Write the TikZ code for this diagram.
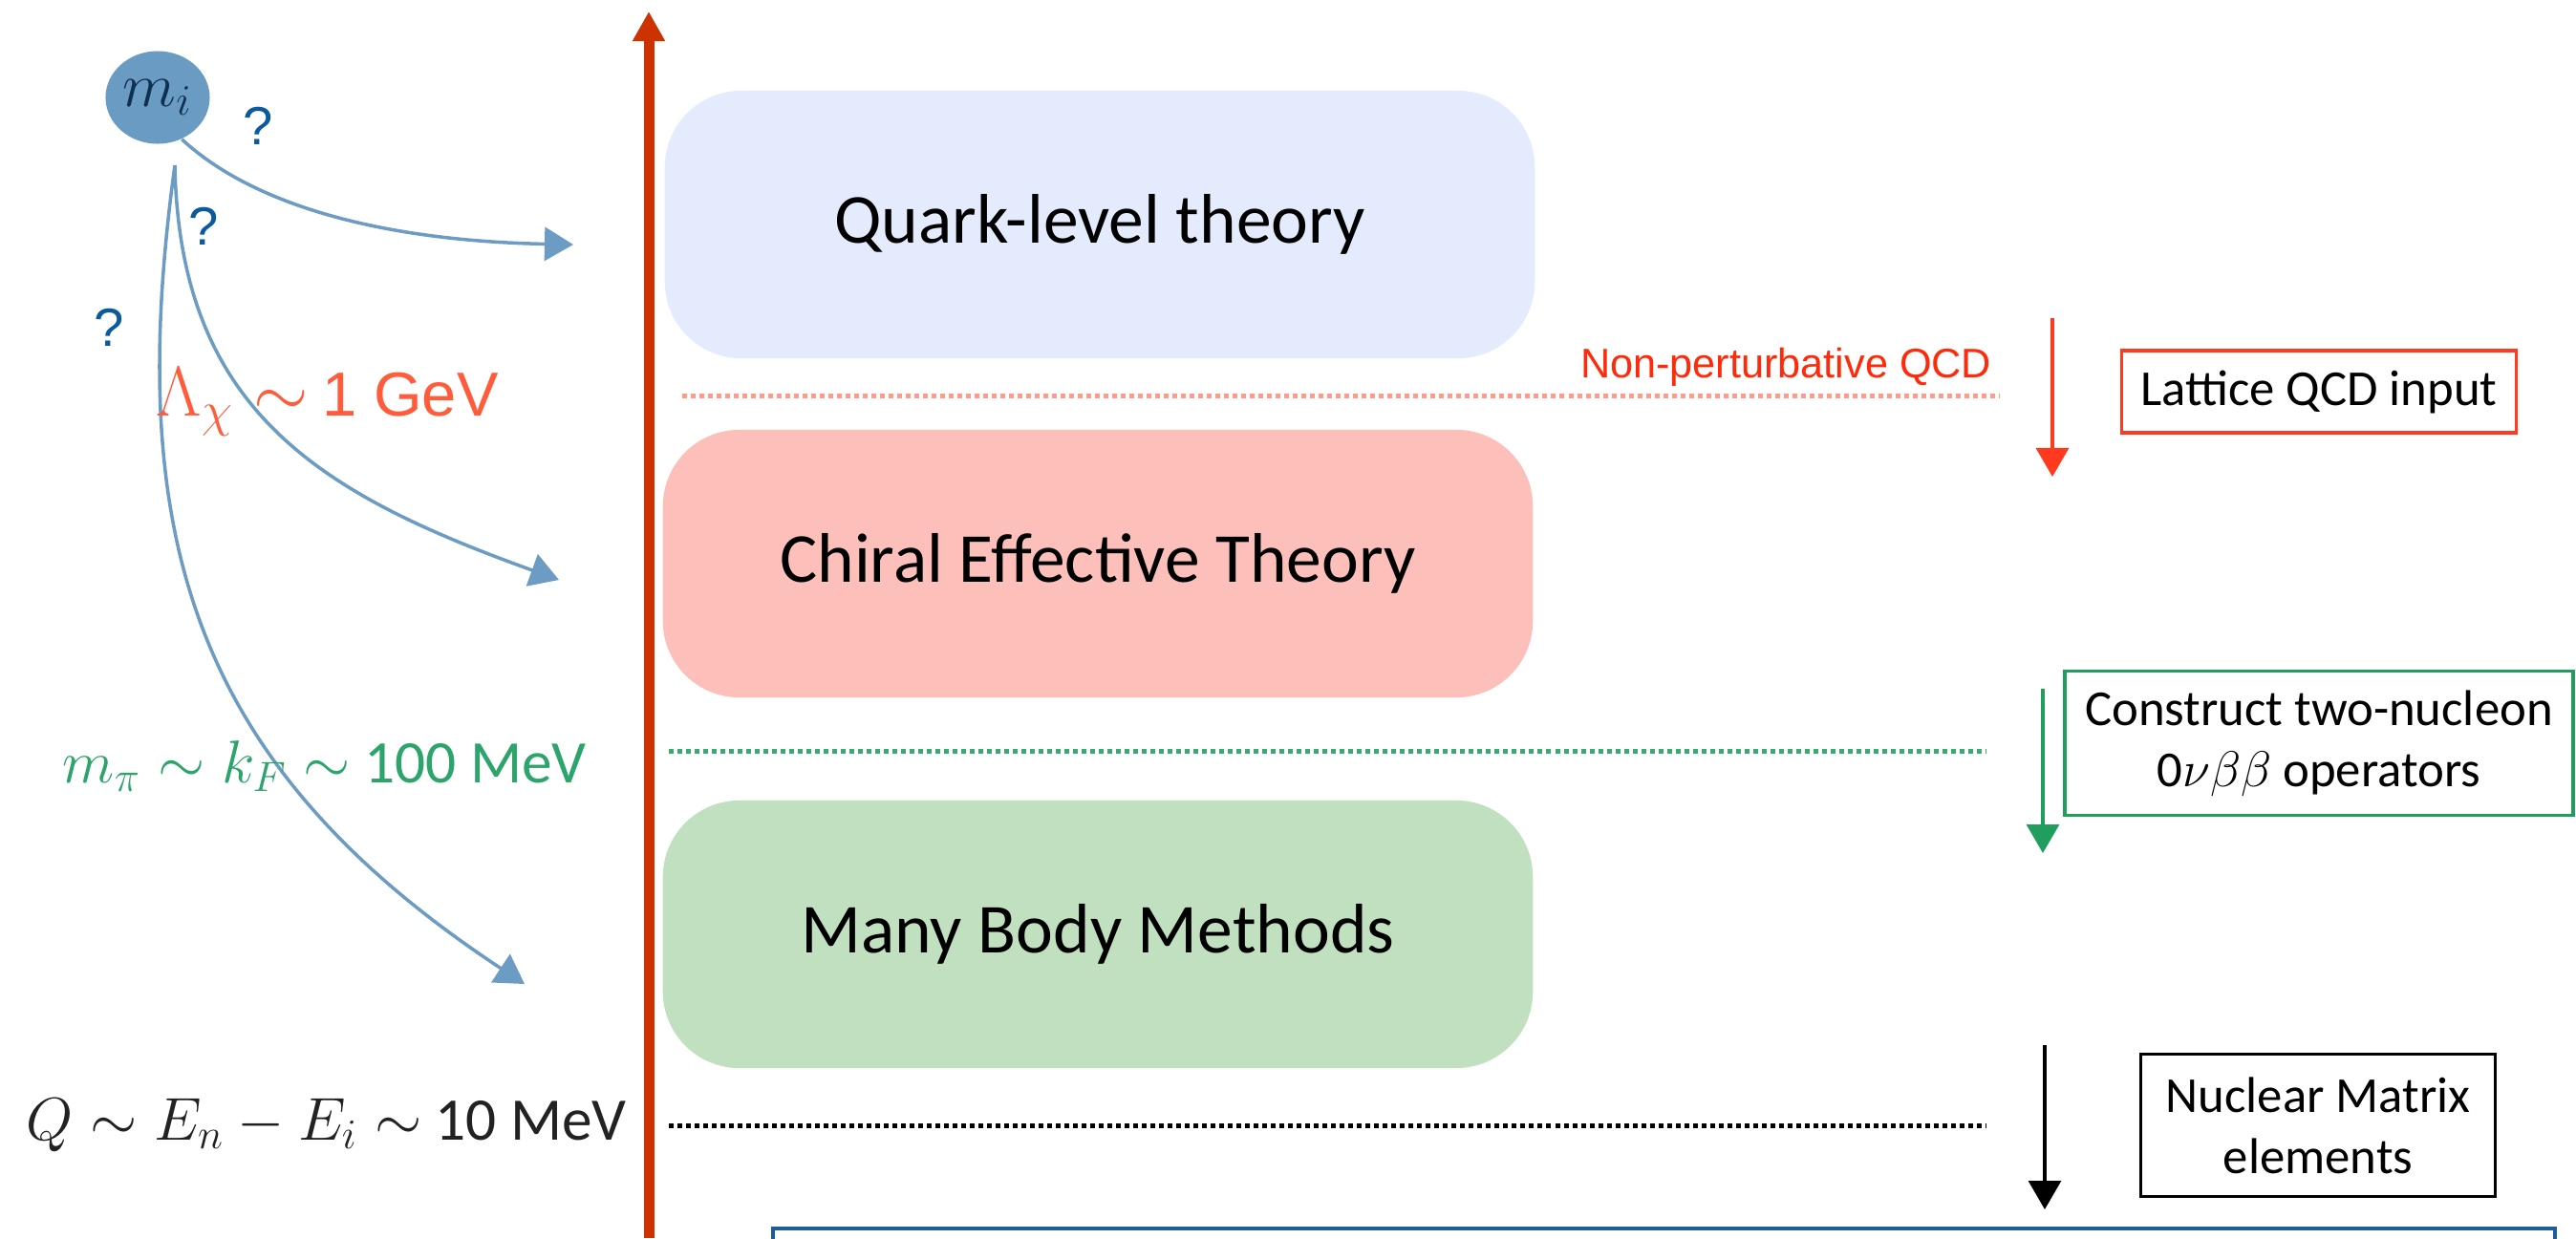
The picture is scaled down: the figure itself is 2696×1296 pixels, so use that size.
\RequirePackage{fix-cm}
\documentclass[tikz,border=0pt]{standalone}
\usepackage{fontspec}
\setmainfont{Carlito}
\newfontfamily\helv{Liberation Sans}
\usetikzlibrary{arrows.meta,shapes.geometric}

\definecolor{quarkfill}{HTML}{E4EBFC}
\definecolor{chiralfill}{HTML}{FDBFBA}
\definecolor{manyfill}{HTML}{C1E0BF}
\definecolor{axisred}{HTML}{CC3300}
\definecolor{sketchblue}{HTML}{6C9BC3}
\definecolor{massfill}{HTML}{6A9BC3}
\definecolor{massink}{HTML}{10304F}
\definecolor{qblue}{HTML}{0B5A9C}
\definecolor{gevred}{HTML}{FF5C3C}
\definecolor{scalegreen}{HTML}{2CA46C}
\definecolor{qblack}{HTML}{222222}
\definecolor{nonpert}{HTML}{FF2A0A}
\definecolor{dotred}{HTML}{FF9B8A}
\definecolor{dotgreen}{HTML}{38AB70}
\definecolor{latred}{HTML}{FF3A1E}
\definecolor{opgreen}{HTML}{1F9E5E}
\definecolor{nmeblue}{HTML}{1E5C9C}

\begin{document}
\begin{tikzpicture}[x=0.01cm, y=-0.01cm,
  tier/.style={rounded corners=0.8cm, minimum width=9.1cm, minimum height=2.8cm, inner sep=0pt, font=\fontsize{20.9}{25}\selectfont},
  infobox/.style={draw, line width=1pt, inner sep=0pt, align=center, font=\fontsize{15}{18.2}\selectfont},
  cutline/.style={line width=0.05cm, dash pattern=on 0.05cm off 0.04cm},
  stepdown/.style={line width=0.9pt, -{Triangle[length=0.3cm,width=0.34cm]}},
  probe/.style={draw=sketchblue, line width=1pt, -{Triangle[length=0.3cm,width=0.35cm]}},
  gauge/.style={anchor=base west, inner sep=0pt, font=\fontsize{18}{18}\selectfont},
  qmark/.style={text=qblue, inner sep=0pt, font=\helv\fontsize{16}{16}\selectfont}]
\useasboundingbox (0,0) rectangle (2696,1296);

% energy axis
\draw[axisred, line width=0.11cm, -{Triangle[length=0.31cm,width=0.32cm]}] (679,1296) -- (679,12);

% theory levels
\node[tier, fill=quarkfill] (quark) at (1151,235) {Quark-level theory};
\node[tier, fill=chiralfill] (chiral) at (1149,590) {Chiral Effective Theory};
\node[tier, fill=manyfill] (many) at (1149,978) {Many Body Methods};

% matching scales
\draw[cutline, dotred] (714,414) -- (2093,414);
\node[anchor=base east, inner sep=0pt, text=nonpert, font=\helv\fontsize{12.3}{12.3}\selectfont] (npqcd) at (2085,395) {Non-perturbative QCD};
\draw[cutline, dotgreen] (700,786) -- (2079,786);
\draw[cutline, black] (700,1178) -- (2079,1178);

% inputs on the right
\draw[stepdown, latred] (2148,333) -- (2148,499);
\node[infobox, draw=latred, minimum width=4.13cm, minimum height=0.86cm] (lattice) at (2427,410) {Lattice QCD input};
\draw[stepdown, opgreen] (2138,721) -- (2138,893);
\node[infobox, draw=opgreen, minimum width=5.32cm, minimum height=1.51cm] (ops) at (2427,778) {Construct two-nucleon\\0$\nu\beta\beta$ operators};
\draw[stepdown, black] (2140,1094) -- (2140,1266);
\node[infobox, minimum width=3.71cm, minimum height=1.49cm] (nme) at (2426,1178) {Nuclear Matrix\\elements};
\draw[nmeblue, line width=1pt] (809,1340) -- (809,1286) -- (2674,1286) -- (2674,1340);

% new physics source and where it enters
\node[ellipse, fill=massfill, minimum width=1.09cm, minimum height=0.97cm, inner sep=0pt, text=massink, font=\fontsize{18.5}{18.5}\selectfont] (mass) at (165,102) {$m_i$};
\coordinate (fork) at (183,173);
\coordinate (hit1) at (600,256);
\coordinate (hit2) at (585,607);
\coordinate (hit3) at (549,1030);
\draw[probe] (mass.-60) .. controls (265,215) and (400,252) .. (hit1);
\draw[probe] (fork) .. controls (188,430) and (335,517) .. (hit2);
\draw[probe] (fork) .. controls (130,560) and (200,800) .. (hit3);
\node[qmark] (q1) at (270,132) {?};
\node[qmark] (q2) at (213,237) {?};
\node[qmark] (q3) at (114,343) {?};

% scale labels
\node[gauge, text=gevred, font=\fontsize{18.5}{18.5}\selectfont] (lam) at (163,435) {{\fontsize{21}{21}\selectfont$\Lambda_\chi\sim$} {\helv 1 GeV}};
\node[gauge, text=scalegreen] (mpi) at (65,819) {$m_\pi\sim k_F\sim$ 100 MeV};
\node[gauge, text=qblack] (qval) at (27,1193) {$Q\sim E_n-E_i\sim$ 10 MeV};
\end{tikzpicture}
\end{document}
